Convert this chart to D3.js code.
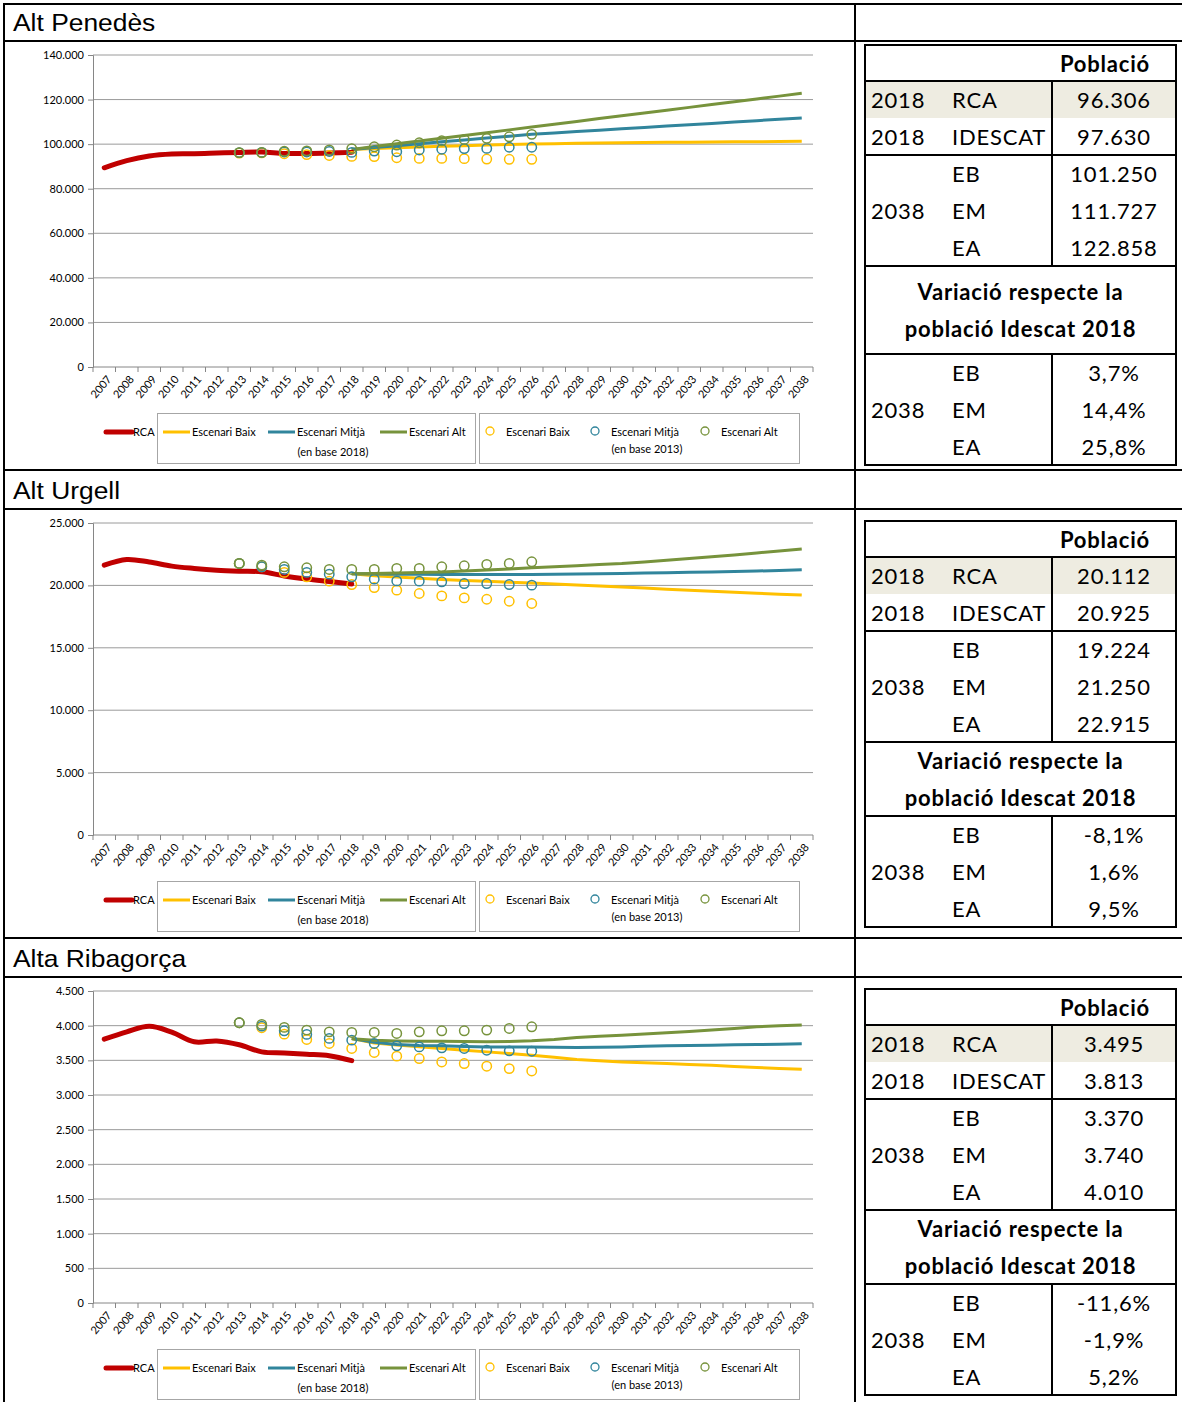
<!DOCTYPE html>
<html>
<head>
<meta charset="utf-8">
<script src="https://cdn.jsdelivr.net/npm/d3@7"></script>
<style>
  body { margin: 0; background: #fff; }
  svg { display: block; }
  .ax text { font-family: Lato, sans-serif; font-size: 11px; fill: #000; }
  .lg { font-family: Lato, sans-serif; font-size: 11px; fill: #000; }
  .tb { font-family: Lato, sans-serif; font-size: 22px; letter-spacing: 0.8px; fill: #000; }
  .ttl { font-family: "Liberation Sans", Arial, sans-serif; font-size: 24px; fill: #000; }
</style>
</head>
<body>
<svg id="page" width="1182" height="1402"></svg>
<script>
// categories
const years = ['2007','2008','2009','2010','2011','2012','2013','2014','2015','2016','2017','2018',
  '2019','2020','2021','2022','2023','2024','2025','2026','2027','2028','2029','2030','2031','2032',
  '2033','2034','2035','2036','2037','2038'];
const yearsRCA = ['2007','2008','2009','2010','2011','2012','2013','2014','2015','2016','2017','2018'];
const years18 = ['2018','2019','2020','2021','2022','2023','2024','2025','2026','2027','2028','2029',
  '2030','2031','2032','2033','2034','2035','2036','2037','2038'];
const years13 = ['2013','2014','2015','2016','2017','2018','2019','2020','2021','2022','2023','2024','2025','2026'];

const comarques = ['Alt Penedès', 'Alt Urgell', 'Alta Ribagorça'];

// Alt Penedès
const penedesRCA = [89400, 92600, 94700, 95600, 95700, 96000, 96300, 96500, 95800, 95800, 96000, 96306];
const penedesBaix18 = [97630, 98000, 98350, 98700, 99000, 99300, 99600, 99850, 100050, 100200, 100350,
  100500, 100600, 100700, 100800, 100900, 100950, 101050, 101100, 101180, 101250];
const penedesMitja18 = [97630, 98480, 99330, 100180, 101030, 101880, 102730, 103580, 104430, 105040, 105650,
  106260, 106870, 107480, 108090, 108700, 109310, 109920, 110530, 111130, 111727];
const penedesAlt18 = [97630, 98900, 100150, 101400, 102650, 103900, 105150, 106400, 107700, 108950, 110200,
  111500, 112750, 114000, 115250, 116500, 117800, 119050, 120300, 121550, 122858];
const penedesBaix13 = [96000, 96100, 95700, 95300, 94900, 94500, 94400, 93900, 93600, 93600, 93500, 93300, 93200, 93200];
const penedesMitja13 = [96200, 96300, 96500, 96500, 96700, 96300, 96900, 96600, 97400, 97700, 98000, 98100, 98600, 98600];
const penedesAlt13 = [96200, 96300, 96800, 97000, 97400, 98000, 98800, 99600, 100600, 101500, 102100, 102600, 103300, 104400];
const penedesTicks = [0, 20000, 40000, 60000, 80000, 100000, 120000, 140000];
const penedesPob = ['96.306', '97.630', '101.250', '111.727', '122.858'];
const penedesVar = ['3,7%', '14,4%', '25,8%'];

// Alt Urgell
const urgellRCA = [21620, 22080, 21870, 21545, 21360, 21220, 21140, 21090, 20760, 20510, 20310, 20112];
const urgellBaix18 = [20925, 20780, 20680, 20570, 20470, 20400, 20330, 20260, 20200, 20120, 20040,
  19950, 19870, 19790, 19700, 19620, 19530, 19450, 19370, 19300, 19224];
const urgellMitja18 = [20925, 20910, 20900, 20890, 20880, 20870, 20870, 20870, 20880, 20900, 20920,
  20940, 20960, 20990, 21020, 21050, 21080, 21110, 21150, 21200, 21250];
const urgellAlt18 = [20925, 20960, 21000, 21040, 21080, 21160, 21240, 21320, 21410, 21500, 21580,
  21670, 21750, 21880, 22020, 22150, 22290, 22440, 22600, 22760, 22915];
const urgellBaix13 = [21760, 21490, 21040, 20690, 20340, 20070, 19830, 19620, 19350, 19160, 19000, 18890, 18730, 18550];
const urgellMitja13 = [21760, 21490, 21280, 21040, 20900, 20690, 20500, 20360, 20340, 20290, 20150, 20150, 20070, 20020];
const urgellAlt13 = [21760, 21625, 21490, 21410, 21280, 21280, 21280, 21360, 21360, 21490, 21570, 21680, 21760, 21890];
const urgellTicks = [0, 5000, 10000, 15000, 20000, 25000];
const urgellPob = ['20.112', '20.925', '19.224', '21.250', '22.915'];
const urgellVar = ['-8,1%', '1,6%', '9,5%'];

// Alta Ribagorça
const ribagorcaRCA = [3805, 3911, 3990, 3906, 3767, 3779, 3724, 3622, 3607, 3589, 3567, 3495];
const ribagorcaBaix18 = [3813, 3750, 3720, 3695, 3671, 3645, 3622, 3598, 3574, 3543, 3512,
  3495, 3477, 3466, 3454, 3441, 3429, 3412, 3396, 3383, 3370];
const ribagorcaMitja18 = [3813, 3760, 3730, 3715, 3710, 3700, 3694, 3694, 3694, 3690, 3685,
  3690, 3694, 3702, 3709, 3714, 3719, 3724, 3728, 3732, 3740];
const ribagorcaAlt18 = [3813, 3790, 3780, 3775, 3775, 3770, 3767, 3772, 3781, 3800, 3830,
  3848, 3863, 3880, 3897, 3916, 3936, 3960, 3984, 4000, 4010];
const ribagorcaBaix13 = [4042, 3970, 3878, 3801, 3743, 3671, 3613, 3560, 3526, 3477, 3454, 3415, 3381, 3347];
const ribagorcaMitja13 = [4042, 3994, 3926, 3874, 3816, 3791, 3743, 3709, 3694, 3680, 3671, 3646, 3637, 3632];
const ribagorcaAlt13 = [4042, 4018, 3975, 3936, 3911, 3902, 3902, 3888, 3911, 3926, 3926, 3936, 3960, 3984];
const ribagorcaTicks = [0, 500, 1000, 1500, 2000, 2500, 3000, 3500, 4000, 4500];
const ribagorcaPob = ['3.495', '3.813', '3.370', '3.740', '4.010'];
const ribagorcaVar = ['-11,6%', '-1,9%', '5,2%'];

const colors = { rca: '#C00000', baix: '#FFC000', mitja: '#31859C', alt: '#77933C' };

const panels = [
  { name: comarques[0], rca: penedesRCA, l18: [penedesBaix18, penedesMitja18, penedesAlt18],
    c13: [penedesBaix13, penedesMitja13, penedesAlt13], ticks: penedesTicks, pob: penedesPob, vari: penedesVar },
  { name: comarques[1], rca: urgellRCA, l18: [urgellBaix18, urgellMitja18, urgellAlt18],
    c13: [urgellBaix13, urgellMitja13, urgellAlt13], ticks: urgellTicks, pob: urgellPob, vari: urgellVar },
  { name: comarques[2], rca: ribagorcaRCA, l18: [ribagorcaBaix18, ribagorcaMitja18, ribagorcaAlt18],
    c13: [ribagorcaBaix13, ribagorcaMitja13, ribagorcaAlt13], ticks: ribagorcaTicks, pob: ribagorcaPob, vari: ribagorcaVar }
];

// layout of each table (top, height of the "Variació" block)
const tableLayout = [{ top: 45, varH: 88 }, { top: 521, varH: 74 }, { top: 989, varH: 74 }];

const fmt = d3.formatLocale({ decimal: ',', thousands: '.', grouping: [3], currency: ['', ''] }).format(',d');
const svg = d3.select('#page');

// outer frame
const hLines = [4, 41, 470, 509, 938, 977];
svg.selectAll('.frameh').data(hLines).enter().append('line')
  .attr('x1', 3).attr('x2', 1182).attr('y1', d => d).attr('y2', d => d)
  .attr('stroke', '#000').attr('stroke-width', 2);
[4, 855].forEach(x => {
  svg.append('line').attr('x1', x).attr('x2', x).attr('y1', 3).attr('y2', 1402)
    .attr('stroke', '#000').attr('stroke-width', 2);
});

panels.forEach((p, i) => drawPanel(p, i));

function drawPanel(p, i) {
  const off = 468 * i;
  const g = svg.append('g').attr('transform', `translate(0,${off})`);

  g.append('text').attr('class', 'ttl')
    .attr('transform', 'translate(13,31) scale(1.1,1)').text(p.name);

  const top = 55, bottom = 367, left = 93, right = 813;
  const x = d3.scaleBand().domain(years).range([left, right]).paddingInner(0).paddingOuter(0);
  const xc = d => x(d) + x.bandwidth() / 2;
  const y = d3.scaleLinear().domain([0, d3.max(p.ticks)]).range([bottom, top]);

  // gridlines
  g.selectAll('.grid').data(p.ticks.filter(t => t > 0)).enter().append('line')
    .attr('x1', left).attr('x2', right).attr('y1', d => y(d)).attr('y2', d => y(d))
    .attr('stroke', '#9a9a9a').attr('stroke-width', 1);

  // y axis
  const ya = g.append('g').attr('class', 'ax').attr('transform', `translate(${left},0)`)
    .call(d3.axisLeft(y).tickValues(p.ticks).tickFormat(fmt).tickSize(5).tickPadding(4));
  ya.select('.domain').attr('stroke', '#868686');
  ya.selectAll('.tick line').attr('stroke', '#868686');

  // x axis
  g.append('line').attr('x1', left).attr('x2', right).attr('y1', bottom).attr('y2', bottom)
    .attr('stroke', '#868686');
  const edges = years.map(d => x(d)).concat([right]);
  g.selectAll('.xt').data(edges).enter().append('line')
    .attr('x1', d => d).attr('x2', d => d).attr('y1', bottom).attr('y2', bottom + 5)
    .attr('stroke', '#868686');
  g.selectAll('.xl').data(years).enter().append('text')
    .attr('class', 'lg')
    .attr('transform', d => `translate(${xc(d) + 5},${bottom + 10}) rotate(-50)`)
    .attr('text-anchor', 'end').attr('dy', '0.35em')
    .text(d => d);

  // base 2018 lines
  const keys = ['baix', 'mitja', 'alt'];
  const line18 = d3.line().x((d, j) => xc(years18[j])).y(d => y(d));
  p.l18.forEach((s, k) => {
    g.append('path').datum(s).attr('d', line18).attr('fill', 'none')
      .attr('stroke', colors[keys[k]]).attr('stroke-width', 3).attr('stroke-linejoin', 'round');
  });

  // RCA
  const lineR = d3.line().x((d, j) => xc(yearsRCA[j])).y(d => y(d)).curve(d3.curveCatmullRom);
  g.append('path').datum(p.rca).attr('d', lineR).attr('fill', 'none')
    .attr('stroke', colors.rca).attr('stroke-width', 5).attr('stroke-linecap', 'round');

  // base 2013 markers
  p.c13.forEach((s, k) => {
    g.selectAll('.c' + k).data(s).enter().append('circle')
      .attr('cx', (d, j) => xc(years13[j])).attr('cy', d => y(d)).attr('r', 4.7)
      .attr('fill', 'none').attr('stroke', colors[keys[k]]).attr('stroke-width', 1.5);
  });

  // legend
  const ly = 432;
  g.append('line').attr('x1', 106).attr('x2', 132).attr('y1', ly).attr('y2', ly)
    .attr('stroke', colors.rca).attr('stroke-width', 5).attr('stroke-linecap', 'round');
  g.append('text').attr('class', 'lg').attr('x', 133).attr('y', ly + 4).text('RCA');

  g.append('rect').attr('x', 157.5).attr('y', 413.5).attr('width', 318).attr('height', 50)
    .attr('fill', 'none').attr('stroke', '#a6a6a6');
  g.append('rect').attr('x', 479.5).attr('y', 413.5).attr('width', 320).attr('height', 50)
    .attr('fill', 'none').attr('stroke', '#a6a6a6');

  const lineLeg = [
    { k: 'baix', x: 163, t: 'Escenari Baix' },
    { k: 'mitja', x: 268, t: 'Escenari Mitjà' },
    { k: 'alt', x: 380, t: 'Escenari Alt' }
  ];
  lineLeg.forEach(l => {
    g.append('line').attr('x1', l.x).attr('x2', l.x + 27).attr('y1', ly).attr('y2', ly)
      .attr('stroke', colors[l.k]).attr('stroke-width', 3);
    g.append('text').attr('class', 'lg').attr('x', l.x + 29).attr('y', ly + 4).text(l.t);
  });
  g.append('text').attr('class', 'lg').attr('x', 333).attr('y', ly + 24)
    .attr('text-anchor', 'middle').text('(en base 2018)');

  const circLeg = [
    { k: 'baix', x: 490, t: 'Escenari Baix' },
    { k: 'mitja', x: 595, t: 'Escenari Mitjà' },
    { k: 'alt', x: 705, t: 'Escenari Alt' }
  ];
  circLeg.forEach(l => {
    g.append('circle').attr('cx', l.x).attr('cy', ly - 1).attr('r', 4)
      .attr('fill', 'none').attr('stroke', colors[l.k]).attr('stroke-width', 1.3);
    g.append('text').attr('class', 'lg').attr('x', l.x + 16).attr('y', ly + 4).text(l.t);
  });
  g.append('text').attr('class', 'lg').attr('x', 647).attr('y', ly + 21)
    .attr('text-anchor', 'middle').text('(en base 2013)');

  drawTable(p, tableLayout[i]);
}

function drawTable(p, L) {
  const g = svg.append('g');
  const x0 = 865, x1 = 1052, x2 = 1176, rh = 37;
  const t = L.top;
  const hHead = t + 36, hRCA = hHead + rh, hId = hRCA + rh, hBlk = hId + 3 * rh,
    hVar = hBlk + L.varH, hEnd = hVar + 3 * rh;

  g.append('rect').attr('x', x0).attr('y', hHead).attr('width', x2 - x0).attr('height', rh)
    .attr('fill', '#EEECE1');

  const st = sel => sel.attr('stroke', '#000').attr('stroke-width', 2);
  st(g.append('rect').attr('x', x0).attr('y', t).attr('width', x2 - x0).attr('height', hEnd - t).attr('fill', 'none'));
  [hHead, hId, hBlk, hVar].forEach(yy => st(g.append('line').attr('x1', x0).attr('x2', x2).attr('y1', yy).attr('y2', yy)));
  st(g.append('line').attr('x1', x1).attr('x2', x1).attr('y1', hHead).attr('y2', hBlk));
  st(g.append('line').attr('x1', x1).attr('x2', x1).attr('y1', hVar).attr('y2', hEnd));

  const txt = (x, y, s, anchor, bold) => g.append('text').attr('class', 'tb')
    .attr('x', x).attr('y', y).attr('dy', '0.36em').attr('text-anchor', anchor || 'start')
    .attr('font-weight', bold ? 700 : 400).text(s);
  const cx = (x1 + x2) / 2;

  txt(1105, (t + hHead) / 2 + 1, 'Població', 'middle', true);
  txt(871, (hHead + hRCA) / 2 + 1, '2018');
  txt(952, (hHead + hRCA) / 2 + 1, 'RCA');
  txt(cx, (hHead + hRCA) / 2 + 1, p.pob[0], 'middle');
  txt(871, (hRCA + hId) / 2 + 1, '2018');
  txt(952, (hRCA + hId) / 2 + 1, 'IDESCAT');
  txt(cx, (hRCA + hId) / 2 + 1, p.pob[1], 'middle');

  const esc = ['EB', 'EM', 'EA'];
  txt(871, (hId + hBlk) / 2 + 1, '2038');
  esc.forEach((e, k) => {
    const yy = hId + rh * k + rh / 2 + 1;
    txt(952, yy, e);
    txt(cx, yy, p.pob[2 + k], 'middle');
  });

  const vc = (hBlk + hVar) / 2;
  txt((x0 + x2) / 2, vc - 18, 'Variació respecte la', 'middle', true);
  txt((x0 + x2) / 2, vc + 19, 'població Idescat 2018', 'middle', true);

  txt(871, (hVar + hEnd) / 2 + 1, '2038');
  esc.forEach((e, k) => {
    const yy = hVar + rh * k + rh / 2 + 1;
    txt(952, yy, e);
    txt(cx, yy, p.vari[k], 'middle');
  });
}
</script>
</body>
</html>
